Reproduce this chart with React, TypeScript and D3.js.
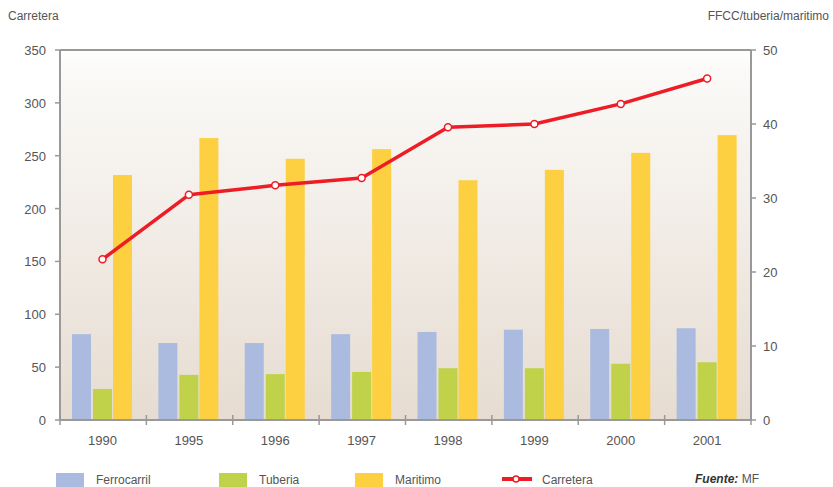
import React from "react";
import * as d3 from "d3";

const years = ["1990", "1995", "1996", "1997", "1998", "1999", "2000", "2001"];
const ferrocarril = [11.6, 10.4, 10.4, 11.6, 11.9, 12.2, 12.3, 12.4];
const tuberia = [4.2, 6.1, 6.2, 6.5, 7.0, 7.0, 7.6, 7.8];
const maritimo = [33.1, 38.1, 35.3, 36.6, 32.4, 33.8, 36.1, 38.5];
const carretera = [152, 213, 222, 229, 277, 280, 299, 323];
const leftTicks = [0, 50, 100, 150, 200, 250, 300, 350];
const rightTicks = [0, 10, 20, 30, 40, 50];

const W = 833, H = 487;
const L = 60, R = 751, T = 50, B = 420;
const FONT = "'Liberation Sans', Arial, sans-serif";
const TXT = "#555";
const AX = "#999";

export default function App() {
  const x = d3.scaleBand<string>().domain(years).range([L, R]);
  const yL = d3.scaleLinear().domain([0, 350]).range([B, T]);
  const yR = d3.scaleLinear().domain([0, 50]).range([B, T]);
  const bw = 19;
  const offs = [12, 33, 53];
  const series = [
    { vals: ferrocarril, color: "#abbbe0" },
    { vals: tuberia, color: "#c0d24a" },
    { vals: maritimo, color: "#fdd042" },
  ];
  const line = d3
    .line<number>()
    .x((_, i) => (x(years[i]) as number) + offs[1] + bw / 2)
    .y((d) => yL(d));

  return (
    <svg width={W} height={H} style={{ position: "absolute", left: 0, top: 0 }}>
      <defs>
        <linearGradient id="bg" x1="0" y1="0" x2="0" y2="1">
          <stop offset="0" stopColor="#ffffff" />
          <stop offset="0.05" stopColor="#fbfaf8" />
          <stop offset="1" stopColor="#e6dcd1" />
        </linearGradient>
      </defs>
      <rect x={0} y={0} width={W} height={H} fill="#fff" />
      <rect x={L} y={T} width={R - L} height={B - T} fill="url(#bg)" />
      <text x={8} y={20} fontFamily={FONT} fontSize={12} fill={TXT}>Carretera</text>
      <text x={829} y={20} fontFamily={FONT} fontSize={12} fill={TXT} textAnchor="end">FFCC/tuberia/maritimo</text>

      {years.map((yr, i) =>
        series.map((s, j) => (
          <rect
            key={yr + j}
            x={(x(yr) as number) + offs[j]}
            y={yR(s.vals[i])}
            width={bw}
            height={B - yR(s.vals[i])}
            fill={s.color}
          />
        ))
      )}

      {/* axes */}
      <line x1={L} x2={R} y1={T} y2={T} stroke={AX} strokeWidth={2} />
      <line x1={L} x2={L} y1={T} y2={B} stroke={AX} strokeWidth={2} />
      <line x1={R} x2={R} y1={T} y2={B} stroke={AX} strokeWidth={2} />
      <line x1={L} x2={R} y1={B} y2={B} stroke={AX} strokeWidth={2} />

      {leftTicks.map((t) => (
        <g key={"l" + t}>
          <line x1={L - 5} x2={L} y1={yL(t)} y2={yL(t)} stroke={AX} strokeWidth={1.5} />
          <text x={46} y={yL(t) + 5} textAnchor="end" fontFamily={FONT} fontSize={13} fill={TXT}>{t}</text>
        </g>
      ))}
      {rightTicks.map((t) => (
        <g key={"r" + t}>
          <line x1={R} x2={R + 5} y1={yR(t)} y2={yR(t)} stroke={AX} strokeWidth={1.5} />
          <text x={763} y={yR(t) + 5} textAnchor="start" fontFamily={FONT} fontSize={13} fill={TXT}>{t}</text>
        </g>
      ))}
      {years.map((yr) => (
        <line key={"xt" + yr} x1={x(yr) as number} x2={x(yr) as number} y1={B - 5} y2={B + 5} stroke={AX} strokeWidth={1.5} />
      ))}
      <line x1={R} x2={R} y1={B - 5} y2={B + 5} stroke={AX} strokeWidth={1.5} />
      {years.map((yr) => (
        <text key={"xl" + yr} x={(x(yr) as number) + offs[1] + bw / 2} y={445} textAnchor="middle" fontFamily={FONT} fontSize={13} fill={TXT}>{yr}</text>
      ))}

      <path d={line(carretera) || ""} fill="none" stroke="#ee1c25" strokeWidth={3.5} strokeLinejoin="round" />
      {carretera.map((v, i) => (
        <circle key={"c" + i} cx={(x(years[i]) as number) + offs[1] + bw / 2} cy={yL(v)} r={3.5} fill="#fff" stroke="#ee1c25" strokeWidth={1.5} />
      ))}

      {/* legend */}
      <rect x={56} y={473} width={28} height={14} fill="#abbbe0" />
      <text x={96} y={484} fontFamily={FONT} fontSize={12} fill={TXT}>Ferrocarril</text>
      <rect x={219} y={473} width={28} height={14} fill="#c0d24a" />
      <text x={259} y={484} fontFamily={FONT} fontSize={12} fill={TXT}>Tuberia</text>
      <rect x={355} y={473} width={28} height={14} fill="#fdd042" />
      <text x={395} y={484} fontFamily={FONT} fontSize={12} fill={TXT}>Maritimo</text>
      <line x1={502} x2={532} y1={479} y2={479} stroke="#ee1c25" strokeWidth={4} />
      <circle cx={516} cy={479} r={3} fill="#fff" stroke="#ee1c25" strokeWidth={1.5} />
      <text x={542} y={484} fontFamily={FONT} fontSize={12} fill={TXT}>Carretera</text>
      <text x={695} y={483} fontFamily={FONT} fontSize={12} fill={TXT}>
        <tspan fontWeight="bold" fontStyle="italic" fill="#333">Fuente:</tspan> MF
      </text>
    </svg>
  );
}
